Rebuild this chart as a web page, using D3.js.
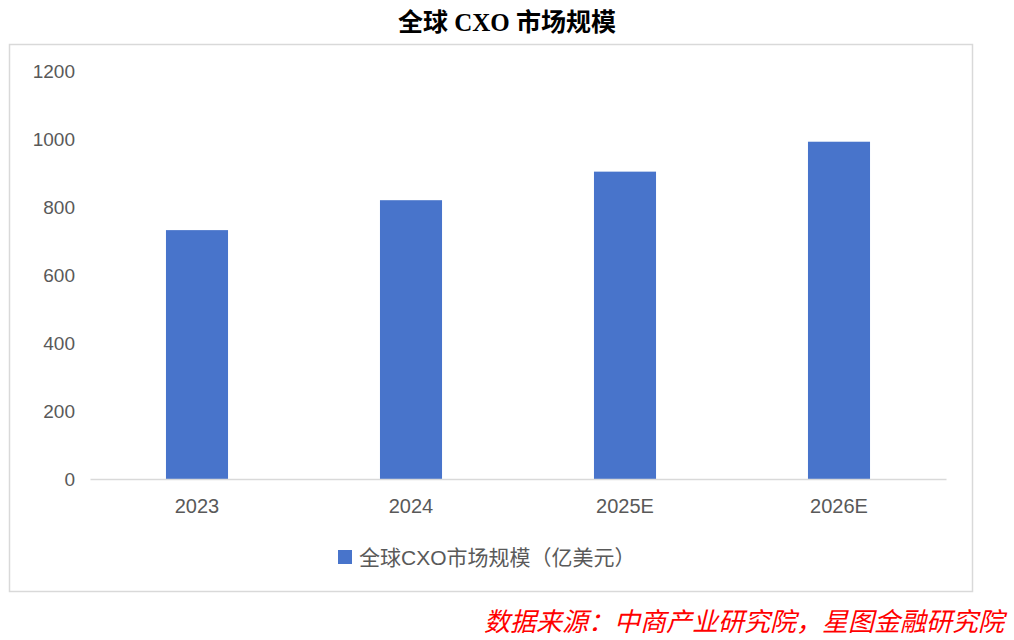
<!DOCTYPE html>
<html>
<head>
<meta charset="utf-8">
<script src="https://cdn.jsdelivr.net/npm/d3@7"></script>
<style>
  body { margin: 0; background: #fff; }
  svg { display: block; }
</style>
</head>
<body>
<svg id="chart" width="1014" height="640"></svg>
<script>
// data
var years = ["2023", "2024", "2025E", "2026E"];
var marketSize = [732, 820, 904, 992];
var yTicks = [0, 200, 400, 600, 800, 1000, 1200];
var title = "全球 CXO 市场规模";
var seriesName = "全球CXO市场规模（亿美元）";
var source = "数据来源：中商产业研究院，星图金融研究院";

var svg = d3.select("#chart");
var latin = "'Liberation Sans', Arial, 'Noto Sans CJK SC', sans-serif";
var cjk = "'Noto Sans CJK SC', sans-serif";

// title
svg.append("text")
    .attr("x", 507).attr("y", 31)
    .attr("text-anchor", "middle")
    .style("font-family", "'Liberation Serif', 'Noto Sans CJK SC', serif")
    .style("font-weight", "bold")
    .style("font-size", "25px")
    .attr("fill", "#000")
    .text(title);

// chart frame
svg.append("rect")
    .attr("x", 9.5).attr("y", 44.5)
    .attr("width", 963).attr("height", 547)
    .attr("fill", "#fff")
    .attr("stroke", "#d9d9d9")
    .attr("stroke-width", 1.5);

var x = d3.scaleBand().domain(years).range([90, 946]).paddingInner(0.71).paddingOuter(0.355);
var y = d3.scaleLinear().domain([0, 1200]).range([479, 71]);

// bars
svg.selectAll("rect.bar")
    .data(marketSize)
    .enter()
    .append("rect")
    .attr("class", "bar")
    .attr("x", (d, i) => x(years[i]))
    .attr("y", d => y(d))
    .attr("width", x.bandwidth())
    .attr("height", d => y(0) - y(d))
    .attr("fill", "#4874cb");

// y axis labels (no line)
var yAxis = svg.append("g")
    .attr("transform", "translate(75,0)")
    .call(d3.axisLeft(y).tickValues(yTicks).tickFormat(d3.format("d")).tickSize(0).tickPadding(0));
yAxis.select(".domain").remove();
yAxis.selectAll("text")
    .style("font-family", latin)
    .style("font-size", "19px")
    .attr("fill", "#595959");

// x axis
var xAxis = svg.append("g")
    .attr("transform", "translate(0," + y(0) + ")")
    .call(d3.axisBottom(x).tickSize(0).tickPadding(20));
xAxis.select(".domain")
    .attr("stroke", "#d9d9d9")
    .attr("stroke-width", 1.5);
xAxis.selectAll("text")
    .style("font-family", latin)
    .style("font-size", "20px")
    .attr("fill", "#595959");

// legend
svg.append("rect")
    .attr("x", 338).attr("y", 550)
    .attr("width", 14).attr("height", 14)
    .attr("fill", "#4874cb");
svg.append("text")
    .attr("x", 359).attr("y", 565)
    .style("font-family", latin)
    .style("font-size", "21px")
    .attr("fill", "#595959")
    .text(seriesName);

// source note
svg.append("text")
    .attr("x", 1004).attr("y", 631)
    .attr("text-anchor", "end")
    .style("font-family", cjk)
    .style("font-style", "italic")
    .style("font-size", "26px")
    .attr("fill", "#ff0000")
    .text(source);
</script>
</body>
</html>
